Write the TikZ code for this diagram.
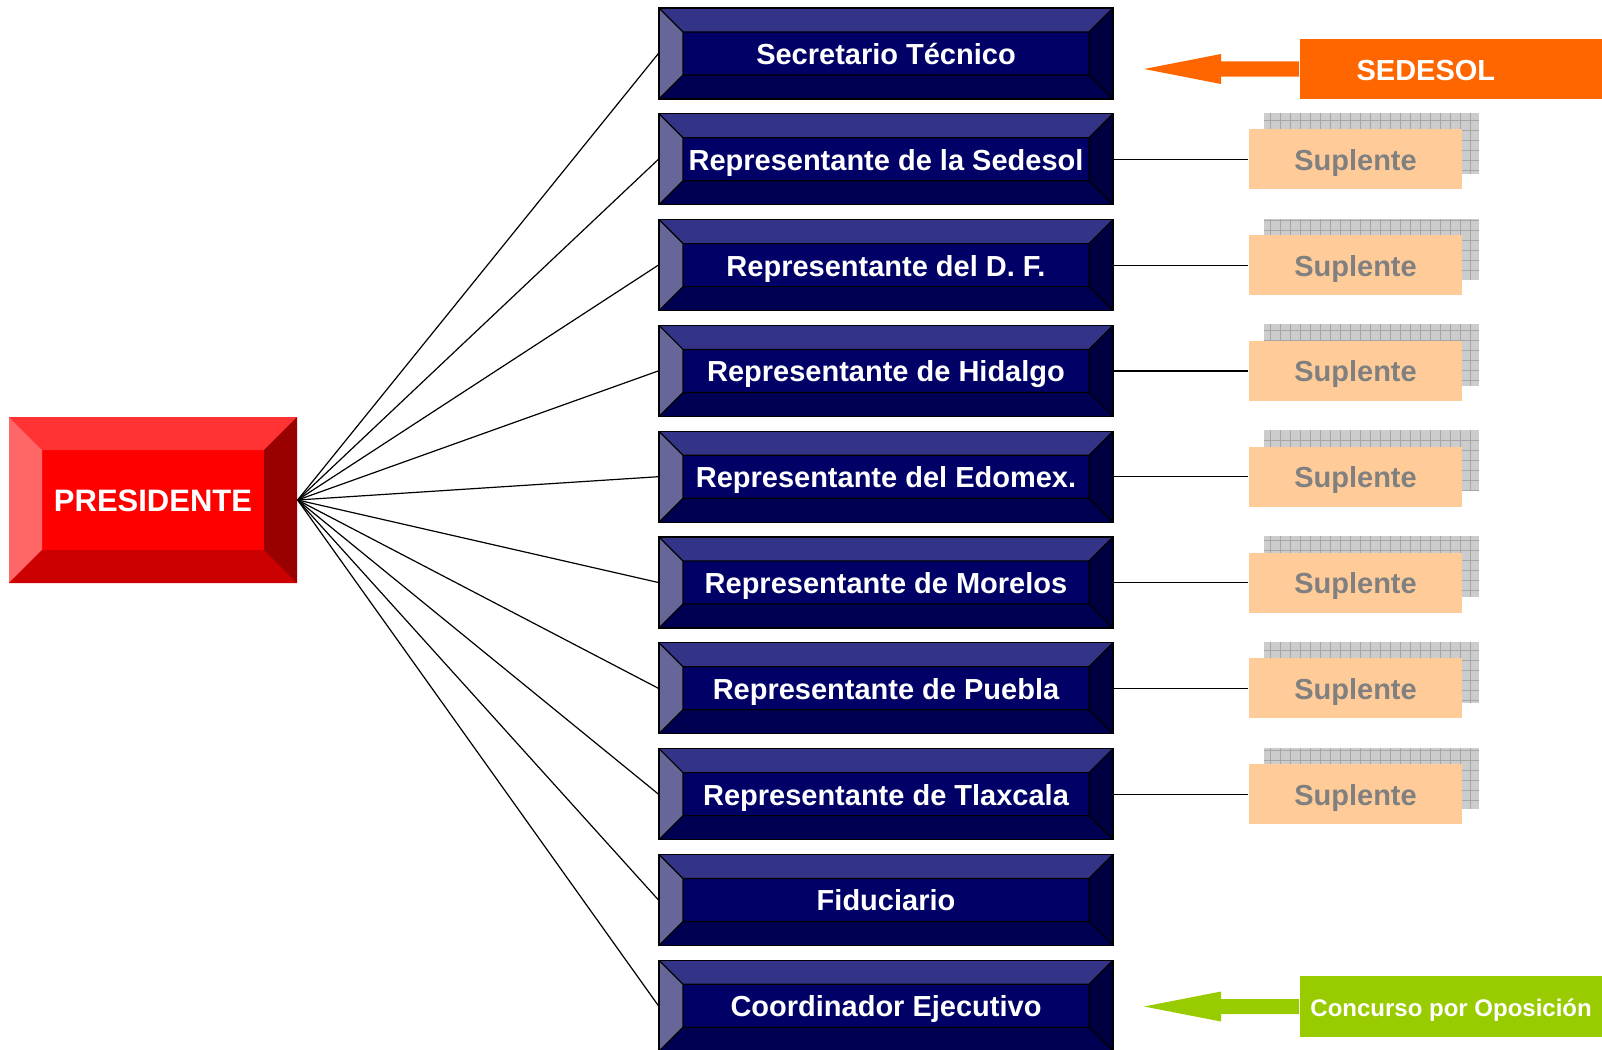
\documentclass[tikz,border=0pt]{standalone}
\usepackage{fontspec}
\setmainfont{Liberation Sans}
\usepackage{tikz}
\usetikzlibrary{backgrounds}
\usetikzlibrary{positioning}
\definecolor{navytop}{HTML}{333388}
\definecolor{navyleft}{HTML}{666699}
\definecolor{navymid}{HTML}{000066}
\definecolor{navybottom}{HTML}{000052}
\definecolor{navyright}{HTML}{000040}
\definecolor{redtop}{HTML}{FF3333}
\definecolor{redleft}{HTML}{FF6666}
\definecolor{redmid}{HTML}{FF0000}
\definecolor{redbottom}{HTML}{CC0000}
\definecolor{redright}{HTML}{990000}
\definecolor{sedesolorange}{HTML}{FF6600}
\definecolor{concursogreen}{HTML}{99CC00}
\definecolor{suplentefill}{HTML}{FFCC99}
\definecolor{suplentetext}{HTML}{808080}
\tikzset{bevel/.style n args={6}{path picture={
    \path (path picture bounding box.north west) coordinate (bnw)
          (path picture bounding box.north east) coordinate (bne)
          (path picture bounding box.south west) coordinate (bsw)
          (path picture bounding box.south east) coordinate (bse);
    \path ([shift={(#1,-#1)}]bnw) coordinate (inw)
          ([shift={(-#1,-#1)}]bne) coordinate (ine)
          ([shift={(#1,#1)}]bsw) coordinate (isw)
          ([shift={(-#1,#1)}]bse) coordinate (ise);
    \fill[#2] (bnw) -- (bne) -- (ine) -- (inw) -- cycle;
    \fill[#3] (bnw) -- (inw) -- (isw) -- (bsw) -- cycle;
    \fill[#4] (bsw) -- (isw) -- (ise) -- (bse) -- cycle;
    \fill[#5] (bne) -- (bse) -- (ise) -- (ine) -- cycle;
    \draw[#6] (inw) rectangle (ise)
      (bnw) -- (inw) (bne) -- (ine) (bsw) -- (isw) (bse) -- (ise);
  }}}

\begin{document}
\begin{tikzpicture}[x=1pt, y=-1pt,
      node distance=105.8pt,
      on grid,
      line width=1.2pt,
      member/.style={rectangle, minimum width=454pt, minimum height=91pt,
        inner sep=0pt, fill=navymid, draw=black, text=white,
        text height=22pt, text depth=0pt,
        font=\bfseries\fontsize{29}{29}\selectfont,
        bevel={24pt}{navytop}{navyleft}{navybottom}{navyright}{black}},
      chair/.style={rectangle, minimum width=288pt, minimum height=166pt,
        inner sep=0pt, fill=redmid, text=white,
        text height=23pt, text depth=0pt,
        font=\bfseries\fontsize{31}{31}\selectfont,
        bevel={33pt}{redtop}{redleft}{redbottom}{redright}{draw=none}},
      substitute/.style={rectangle, minimum width=213pt, minimum height=60pt,
        inner sep=0pt, fill=suplentefill, text=suplentetext,
        text height=22pt, text depth=0pt,
        font=\bfseries\fontsize{29}{29}\selectfont},
      sourcebox/.style={rectangle, minimum height=60pt, text=white,
        text depth=0pt}]

    \useasboundingbox (0,0) rectangle (1602,1049);

    \node[chair]
      (Presidente) at (153,500) {PRESIDENTE};

    \node[member]
      (SecTecnico) at (886,53.5) {Secretario Técnico};
    \node[member]
      (RepSedesol) [below=of SecTecnico] {Representante de la Sedesol};
    \node[member]
      (RepDF) [below=of RepSedesol] {Representante del D. F.};
    \node[member]
      (RepHidalgo) [below=of RepDF] {Representante de Hidalgo};
    \node[member]
      (RepEdomex) [below=of RepHidalgo] {Representante del Edomex.};
    \node[member]
      (RepMorelos) [below=of RepEdomex] {Representante de Morelos};
    \node[member]
      (RepPuebla) [below=of RepMorelos] {Representante de Puebla};
    \node[member]
      (RepTlaxcala) [below=of RepPuebla] {Representante de Tlaxcala};
    \node[member]
      (Fiduciario) [below=of RepTlaxcala] {Fiduciario};
    \node[member]
      (Coordinador) [below=of Fiduciario] {Coordinador Ejecutivo};

    \node[substitute]
      (SupSedesol) [right=469.5pt of RepSedesol] {Suplente};
    \node[substitute]
      (SupDF) [right=469.5pt of RepDF] {Suplente};
    \node[substitute]
      (SupHidalgo) [right=469.5pt of RepHidalgo] {Suplente};
    \node[substitute]
      (SupEdomex) [right=469.5pt of RepEdomex] {Suplente};
    \node[substitute]
      (SupMorelos) [right=469.5pt of RepMorelos] {Suplente};
    \node[substitute]
      (SupPuebla) [right=469.5pt of RepPuebla] {Suplente};
    \node[substitute]
      (SupTlaxcala) [right=469.5pt of RepTlaxcala] {Suplente};

    % hatched shadows behind the substitutes
    \begin{scope}[on background layer]
      \foreach \s in {SupSedesol,SupDF,SupHidalgo,SupEdomex,SupMorelos,SupPuebla,SupTlaxcala} {
        \fill[gray!40] ([shift={(16pt,16pt)}]\s.south west) rectangle ([shift={(16pt,16pt)}]\s.north east);
        \draw[gray!70, line width=0.7pt, step=10pt] ([shift={(16pt,16pt)}]\s.south west) grid ([shift={(16pt,16pt)}]\s.north east);
      }
    \end{scope}

    \node[sourcebox, fill=sedesolorange, anchor=west, text width=189pt,
        inner xsep=57pt, align=left, text height=22pt,
        font=\bfseries\fontsize{29}{29}\selectfont]
      (Sedesol) at (1299,69) {SEDESOL};
    \node[sourcebox, fill=concursogreen, anchor=west, minimum width=303pt,
        minimum height=61pt, inner sep=0pt, text height=19pt,
        font=\bfseries\fontsize{24}{24}\selectfont]
      (Concurso) at (1299,1006.5) {Concurso por Oposición};
    \coordinate (SedesolTip) at (1144,69);
    \coordinate (ConcursoTip) at (1144,1006.5);

    \path[-]
      (Presidente.east) edge (SecTecnico.west)
      (Presidente.east) edge (RepSedesol.west)
      (Presidente.east) edge (RepDF.west)
      (Presidente.east) edge (RepHidalgo.west)
      (Presidente.east) edge (RepEdomex.west)
      (Presidente.east) edge (RepMorelos.west)
      (Presidente.east) edge (RepPuebla.west)
      (Presidente.east) edge (RepTlaxcala.west)
      (Presidente.east) edge (Fiduciario.west)
      (Presidente.east) edge (Coordinador.west);

    \path[-]
      (RepSedesol.east) edge (SupSedesol.west)
      (RepDF.east) edge (SupDF.west)
      (RepHidalgo.east) edge (SupHidalgo.west)
      (RepEdomex.east) edge (SupEdomex.west)
      (RepMorelos.east) edge (SupMorelos.west)
      (RepPuebla.east) edge (SupPuebla.west)
      (RepTlaxcala.east) edge (SupTlaxcala.west);

    % block arrows
    \fill[sedesolorange] (Sedesol.west) ++(0,-7.5) -- ++(-78,0) -- ++(0,-7.5)
      -- (SedesolTip) -- ++(77,15) -- ++(0,-7.5) -- ++(78,0) -- cycle;
    \fill[concursogreen] (Concurso.west) ++(0,-7.5) -- ++(-78,0) -- ++(0,-7.5)
      -- (ConcursoTip) -- ++(77,15) -- ++(0,-7.5) -- ++(78,0) -- cycle;

  \end{tikzpicture}
\end{document}
